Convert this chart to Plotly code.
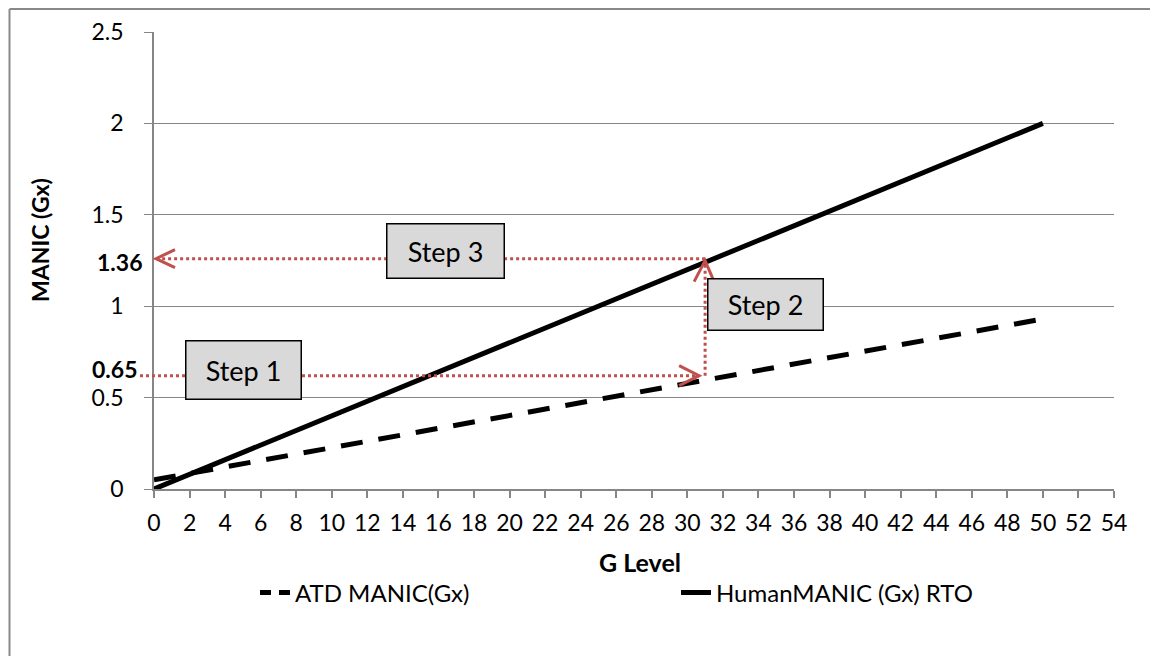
import plotly.graph_objects as go

# ---- data ----
g_levels = [0, 50]
atd_manic = [0.05, 0.93]
human_manic = [0.0, 2.0]

x_ticks = list(range(0, 56, 2))
y_ticks = [0, 0.5, 1, 1.5, 2, 2.5]
y_tick_text = ["0", "0.5", "1", "1.5", "2", "2.5"]

step_g = 31
step_atd = 0.62
step_human = 1.26
label_low = "0.65"
label_high = "1.36"
step_labels = ["Step 1", "Step 2", "Step 3"]
step_box_pos = [(5.06, 0.651), (34.42, 1.012), (16.37, 1.302)]
step_box_size = [(110, 53), (110, 46), (112, 49)]

X_RANGE = [0, 54]
Y_RANGE = [0, 2.5]

# ---- layout geometry (screen pixels; page body adds an 8px offset) ----
OFF = 8
W, H = 1158, 656
PLOT_L, PLOT_R, PLOT_T, PLOT_B = 154, 1114, 32, 489
ML = PLOT_L - OFF
MT = PLOT_T - OFF
MR = W - (PLOT_R - OFF)
MB = H - (PLOT_B - OFF)
PW = PLOT_R - PLOT_L
PH = PLOT_B - PLOT_T

FONT = "Lato"
RED = "#C0504D"
GRAY = "#868686"


def xp(g):
    return (g - X_RANGE[0]) / (X_RANGE[1] - X_RANGE[0])


def yp(v):
    return (v - Y_RANGE[0]) / (Y_RANGE[1] - Y_RANGE[0])


def dx(px):
    return px / PW


def dy(px):
    return px / PH


def sx(px):
    """screen x pixel -> paper"""
    return (px - PLOT_L) / PW


def sy(py):
    """screen y pixel -> paper"""
    return (PLOT_B - py) / PH


fig = go.Figure()
fig.add_trace(go.Scatter(
    x=g_levels, y=atd_manic, mode="lines", name="ATD MANIC(Gx)",
    line=dict(color="black", width=5, dash="22px,16px"), showlegend=False,
    legendgroup="atd",
))
# legend proxy with a shorter dash so two dashes fit in the legend sample
fig.add_trace(go.Scatter(
    x=[None], y=[None], mode="lines", name="ATD MANIC(Gx)",
    line=dict(color="black", width=5, dash="11px,8px"), legendgroup="atd",
))
fig.add_trace(go.Scatter(
    x=g_levels, y=human_manic, mode="lines", name="HumanMANIC (Gx) RTO",
    line=dict(color="black", width=5),
))

shapes = []
dot = dict(color=RED, width=3, dash="3px,3px")
shapes.append(dict(type="line", xref="paper", yref="paper",
                   x0=-dx(14), y0=yp(step_atd), x1=xp(step_g) - dx(6), y1=yp(step_atd), line=dot))
shapes.append(dict(type="line", xref="paper", yref="paper",
                   x0=xp(step_g), y0=yp(step_atd), x1=xp(step_g), y1=yp(step_human) - dy(3), line=dot))
shapes.append(dict(type="line", xref="paper", yref="paper",
                   x0=xp(step_g), y0=yp(step_human), x1=dx(3), y1=yp(step_human), line=dot))

head = dict(color=RED, width=3)


def chevron(tx, ty, ax1, ay1, ax2, ay2):
    return dict(type="path", xref="paper", yref="paper", line=head,
                path=f"M {tx+dx(ax1)} {ty+dy(ay1)} L {tx} {ty} L {tx+dx(ax2)} {ty+dy(ay2)}")


shapes.append(chevron(xp(step_g) - dx(6), yp(step_atd), -20, 10, -20, -10))
shapes.append(chevron(xp(step_g), yp(step_human) - dy(2), -11, -21, 9, -21))
shapes.append(chevron(dx(2), yp(step_human), 19, 9, 19, -9))

# outer frame (left and top edges visible)
FRAME_X = OFF + 1.5
FRAME_Y = 9
shapes.append(dict(type="line", xref="paper", yref="paper",
                   x0=sx(FRAME_X), y0=sy(FRAME_Y), x1=sx(FRAME_X), y1=sy(700),
                   line=dict(color="#898989", width=2)))
shapes.append(dict(type="line", xref="paper", yref="paper",
                   x0=sx(FRAME_X), y0=sy(FRAME_Y), x1=sx(1200), y1=sy(FRAME_Y),
                   line=dict(color="#898989", width=2)))

annotations = []
for text, (gx, gy), (bw, bh) in zip(step_labels, step_box_pos, step_box_size):
    annotations.append(dict(
        x=gx, y=gy, xref="x", yref="y", text=text, showarrow=False,
        font=dict(family=FONT, size=27, color="black"),
        bgcolor="#D9D9D9", bordercolor="black", borderwidth=1.5, borderpad=2,
        width=bw, height=bh, align="center", valign="middle",
    ))

annotations.append(dict(x=sx(144), y=sy(262), xref="paper", yref="paper",
                        text=f"<b>{label_high}</b>", showarrow=False, xanchor="right", yanchor="middle",
                        font=dict(family=FONT, size=23, color="black")))
annotations.append(dict(x=sx(139), y=sy(369), xref="paper", yref="paper",
                        text=f"<b>{label_low}</b>", showarrow=False, xanchor="right", yanchor="middle",
                        font=dict(family=FONT, size=23, color="black")))

# axis titles
annotations.append(dict(x=sx(640), y=sy(562), xref="paper", yref="paper",
                        text="<b>G Level</b>", showarrow=False, xanchor="center", yanchor="middle",
                        font=dict(family=FONT, size=25, color="black")))
annotations.append(dict(x=sx(40), y=sy(240), xref="paper", yref="paper",
                        text="<b>MANIC (Gx)</b>", showarrow=False, textangle=-90,
                        xanchor="center", yanchor="middle",
                        font=dict(family=FONT, size=23, color="black")))

fig.update_layout(
    width=W, height=H,
    margin=dict(l=ML, r=MR, t=MT, b=MB, autoexpand=False),
    paper_bgcolor="white", plot_bgcolor="white",
    font=dict(family=FONT, size=23, color="black"),
    shapes=shapes, annotations=annotations,
    showlegend=True,
    legend=dict(orientation="h", x=sx(255), y=sy(593),
                xanchor="left", yanchor="middle", entrywidth=376,
                font=dict(family=FONT, size=24, color="black"),
                bgcolor="rgba(0,0,0,0)"),
)
fig.update_xaxes(
    range=X_RANGE, tickvals=x_ticks, ticktext=[str(t) for t in x_ticks],
    showgrid=False, zeroline=False, showline=True, linecolor=GRAY, linewidth=1.5,
    ticks="outside", ticklen=7, tickcolor=GRAY, tickwidth=1.5,
    ticklabelstandoff=6, tickfont=dict(family=FONT, size=23, color="black"),
)
fig.update_yaxes(
    range=Y_RANGE, tickvals=y_ticks, ticktext=y_tick_text,
    showgrid=True, gridcolor=GRAY, gridwidth=1.2, zeroline=False,
    showline=True, linecolor=GRAY, linewidth=1.5,
    ticks="outside", ticklen=8, tickcolor=GRAY, tickwidth=1.2,
    ticklabelstandoff=16, tickfont=dict(family=FONT, size=23, color="black"),
)

fig.write_html("out.html")
